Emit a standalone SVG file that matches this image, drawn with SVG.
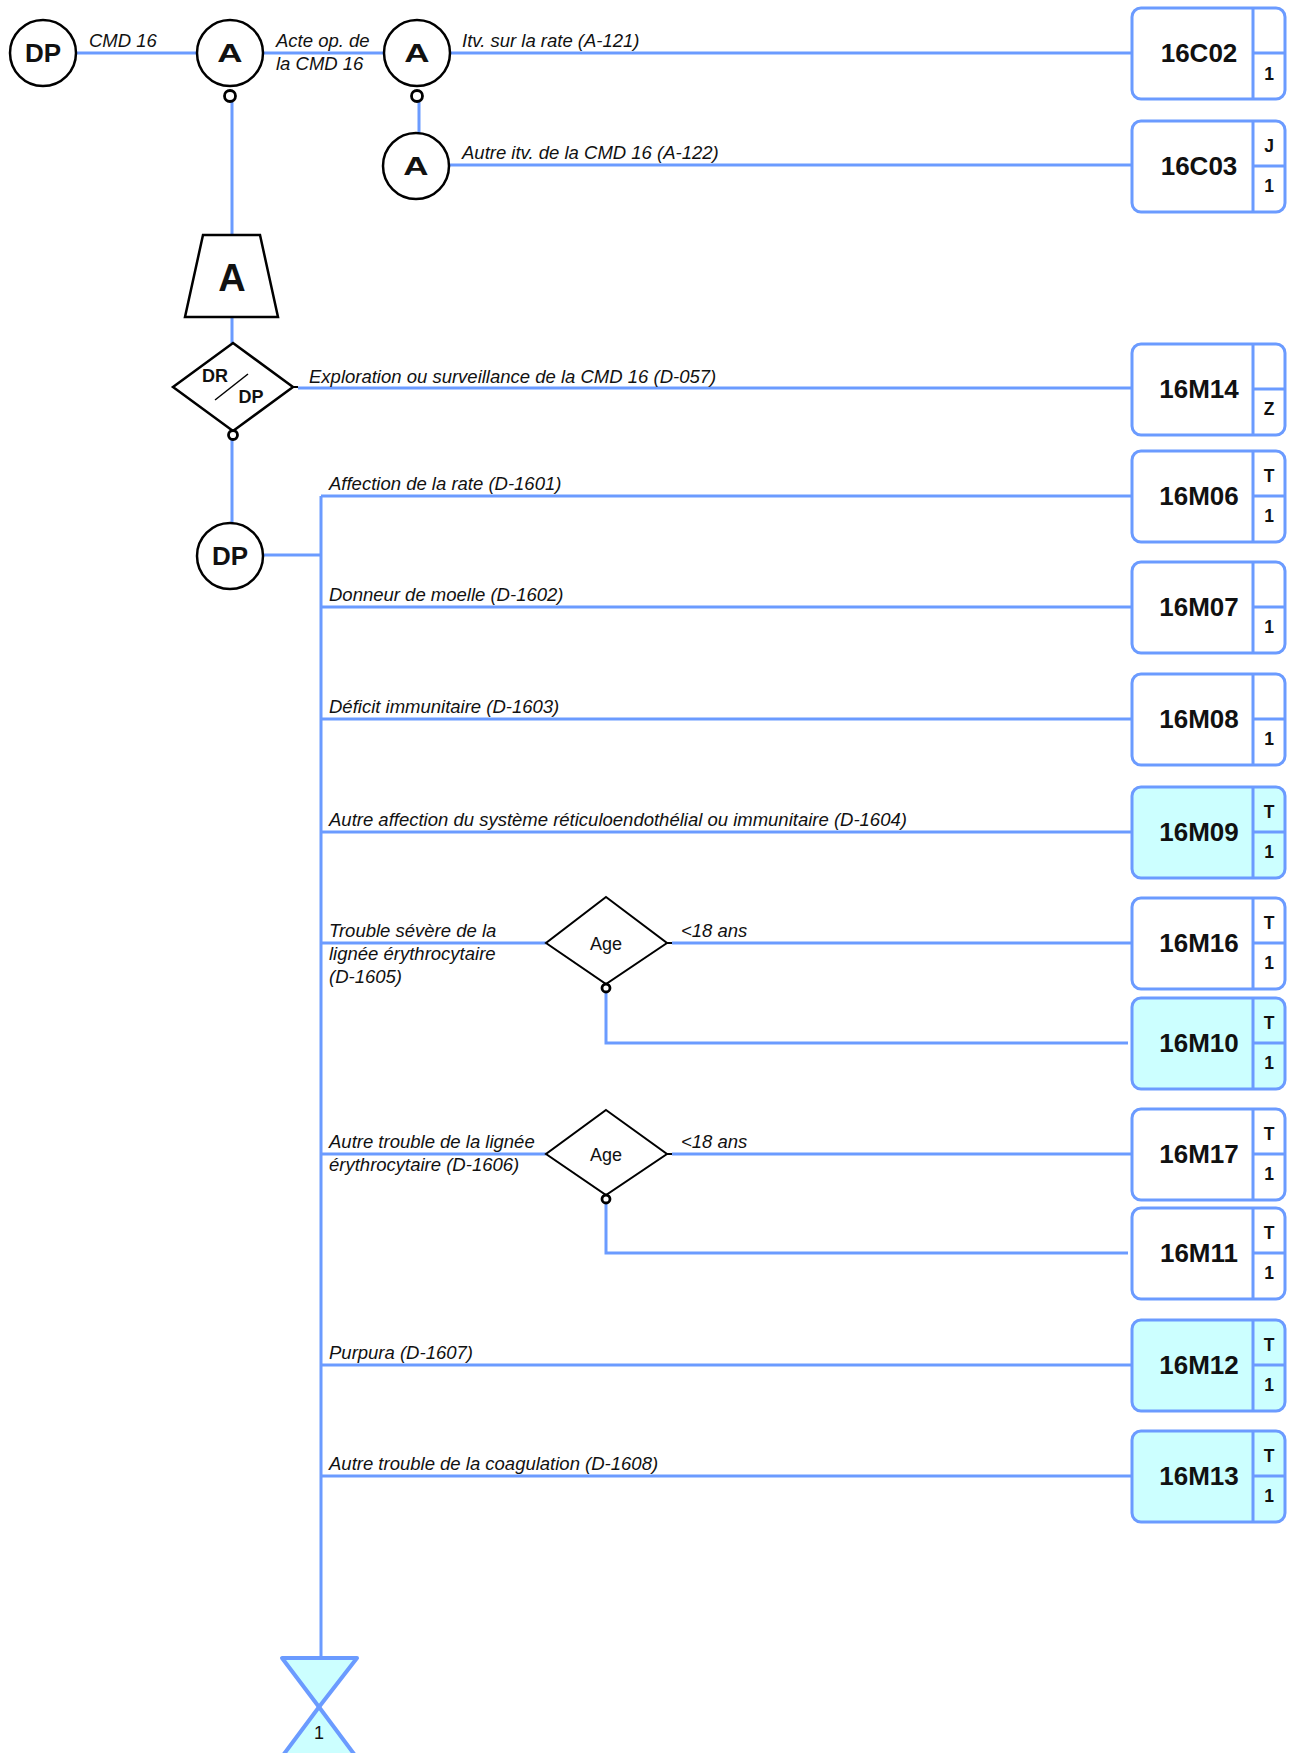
<svg xmlns="http://www.w3.org/2000/svg" width="1294" height="1753" viewBox="0 0 1294 1753">
<style>
.c{stroke:#6b9bff;stroke-width:3;fill:none}
.n{fill:#fff;stroke:#000;stroke-width:2.5}
.s{fill:#fff;stroke:#000;stroke-width:2.8}
.lbl{font-family:"Liberation Sans",Arial,sans-serif;font-style:italic;font-size:18.5px;fill:#111}
.b{font-family:"Liberation Sans",Arial,sans-serif;font-weight:bold;fill:#111;text-anchor:middle}
.r{font-family:"Liberation Sans",Arial,sans-serif;font-size:18px;fill:#111;text-anchor:middle}
.box{fill:#fff;stroke:#6b9bff;stroke-width:3}
.cy{fill:#ccffff}
.div{stroke:#6b9bff;stroke-width:3;fill:none}
.code{font-size:26px}
.sm{font-size:17.5px}
</style>
<defs>
<g id="bx">
<rect x="0" y="-45" width="153" height="91" rx="9" class="box"/>
<path d="M121,-45V46M121,0H153" class="div"/>
</g>
<g id="bxc">
<rect x="0" y="-45" width="153" height="91" rx="9" class="box cy"/>
<path d="M121,-45V46M121,0H153" class="div"/>
</g>
</defs>

<g id="connectors">
<path class="c" d="M77,53H197M263,53H384M450,53H1132M419,102V133M449,165H1132"/>
<path class="c" d="M232,102V235M232,317V343M232,439V523"/>
<path class="c" d="M298,388H1132"/>
<path class="c" d="M264,555H321M321,496V1658"/>
<path class="c" d="M321,496H1132M321,607H1132M321,719H1132M321,832H1132M321,943H546M321,1154H546M321,1365H1132M321,1476H1132"/>
<path class="c" d="M672,943H1132M606,992V1043H1128M672,1154H1132M606,1204V1253H1128"/>
<path d="M293,387H298M667,943H672M667,1154H672" stroke="#000" stroke-width="2"/>
</g>

<g id="labels">
<text class="lbl" x="89" y="47">CMD 16</text>
<text class="lbl" x="276" y="47">Acte op. de</text>
<text class="lbl" x="276" y="70">la CMD 16</text>
<text class="lbl" x="462" y="47">Itv. sur la rate (A-121)</text>
<text class="lbl" x="462" y="159">Autre itv. de la CMD 16 (A-122)</text>
<text class="lbl" x="309" y="383">Exploration ou surveillance de la CMD 16 (D-057)</text>
<text class="lbl" x="329" y="490">Affection de la rate (D-1601)</text>
<text class="lbl" x="329" y="601">Donneur de moelle (D-1602)</text>
<text class="lbl" x="329" y="713">Déficit immunitaire (D-1603)</text>
<text class="lbl" x="329" y="826">Autre affection du système réticuloendothélial ou immunitaire (D-1604)</text>
<text class="lbl" x="329" y="937">Trouble sévère de la</text>
<text class="lbl" x="329" y="960">lignée érythrocytaire</text>
<text class="lbl" x="329" y="983">(D-1605)</text>
<text class="lbl" x="681" y="937">&lt;18 ans</text>
<text class="lbl" x="329" y="1148">Autre trouble de la lignée</text>
<text class="lbl" x="329" y="1171">érythrocytaire (D-1606)</text>
<text class="lbl" x="681" y="1148">&lt;18 ans</text>
<text class="lbl" x="329" y="1359">Purpura (D-1607)</text>
<text class="lbl" x="329" y="1470">Autre trouble de la coagulation (D-1608)</text>
</g>

<g id="dp1"><circle cx="43" cy="53" r="33" class="n"/><text class="b" x="43" y="62" font-size="26">DP</text></g>
<g id="a1"><circle cx="230" cy="53" r="33" class="n"/><text class="b" transform="translate(230,62) scale(1.4,1)" font-size="25">A</text><circle cx="230" cy="96" r="5.5" class="s"/></g>
<g id="a2"><circle cx="417" cy="53" r="33" class="n"/><text class="b" transform="translate(417,62) scale(1.4,1)" font-size="25">A</text><circle cx="417" cy="96" r="5.5" class="s"/></g>
<g id="a3"><circle cx="416" cy="166" r="33" class="n"/><text class="b" transform="translate(416,175) scale(1.4,1)" font-size="25">A</text></g>
<g id="trap"><polygon points="203,235 260,235 278,317 185,317" class="n"/><text class="b" x="232" y="291" font-size="38">A</text></g>
<g id="drdp">
<polygon points="233,343 293,387 233,431 173,387" class="n"/>
<text class="b" x="215" y="382" font-size="18">DR</text>
<text class="b" x="251" y="403" font-size="18">DP</text>
<line x1="248" y1="374" x2="215" y2="400" stroke="#000" stroke-width="1.5"/>
<circle cx="233" cy="435" r="4.5" class="s"/>
</g>
<g id="dp2"><circle cx="230" cy="556" r="33" class="n"/><text class="b" x="230" y="565" font-size="26">DP</text></g>
<g id="age1">
<polygon points="606,897 667,943 606,984 546,943" fill="#fff" stroke="#000" stroke-width="2"/>
<text class="r" x="606" y="950">Age</text>
<circle cx="606" cy="988" r="4" class="s"/>
</g>
<g id="age2">
<polygon points="606,1110 667,1154 606,1195 546,1154" fill="#fff" stroke="#000" stroke-width="2"/>
<text class="r" x="606" y="1161">Age</text>
<circle cx="606" cy="1199" r="4" class="s"/>
</g>

<g id="b16C02" transform="translate(1132,53)"><use href="#bx"/><text class="b code" x="67" y="9">16C02</text><text class="b sm" x="137" y="27">1</text></g>
<g id="b16C03" transform="translate(1132,166)"><use href="#bx"/><text class="b code" x="67" y="9">16C03</text><text class="b sm" x="137" y="-14">J</text><text class="b sm" x="137" y="26">1</text></g>
<g id="b16M14" transform="translate(1132,389)"><use href="#bx"/><text class="b code" x="67" y="9">16M14</text><text class="b sm" x="137" y="26">Z</text></g>
<g id="b16M06" transform="translate(1132,496)"><use href="#bx"/><text class="b code" x="67" y="9">16M06</text><text class="b sm" x="137" y="-14">T</text><text class="b sm" x="137" y="26">1</text></g>
<g id="b16M07" transform="translate(1132,607)"><use href="#bx"/><text class="b code" x="67" y="9">16M07</text><text class="b sm" x="137" y="26">1</text></g>
<g id="b16M08" transform="translate(1132,719)"><use href="#bx"/><text class="b code" x="67" y="9">16M08</text><text class="b sm" x="137" y="26">1</text></g>
<g id="b16M09" transform="translate(1132,832)"><use href="#bxc"/><text class="b code" x="67" y="9">16M09</text><text class="b sm" x="137" y="-14">T</text><text class="b sm" x="137" y="26">1</text></g>
<g id="b16M16" transform="translate(1132,943)"><use href="#bx"/><text class="b code" x="67" y="9">16M16</text><text class="b sm" x="137" y="-14">T</text><text class="b sm" x="137" y="26">1</text></g>
<g id="b16M10" transform="translate(1132,1043)"><use href="#bxc"/><text class="b code" x="67" y="9">16M10</text><text class="b sm" x="137" y="-14">T</text><text class="b sm" x="137" y="26">1</text></g>
<g id="b16M17" transform="translate(1132,1154)"><use href="#bx"/><text class="b code" x="67" y="9">16M17</text><text class="b sm" x="137" y="-14">T</text><text class="b sm" x="137" y="26">1</text></g>
<g id="b16M11" transform="translate(1132,1253)"><use href="#bx"/><text class="b code" x="67" y="9">16M11</text><text class="b sm" x="137" y="-14">T</text><text class="b sm" x="137" y="26">1</text></g>
<g id="b16M12" transform="translate(1132,1365)"><use href="#bxc"/><text class="b code" x="67" y="9">16M12</text><text class="b sm" x="137" y="-14">T</text><text class="b sm" x="137" y="26">1</text></g>
<g id="b16M13" transform="translate(1132,1476)"><use href="#bxc"/><text class="b code" x="67" y="9">16M13</text><text class="b sm" x="137" y="-14">T</text><text class="b sm" x="137" y="26">1</text></g>

<g id="end">
<polygon points="282,1658 357,1658 319,1707" fill="#ccffff" stroke="#6b9bff" stroke-width="4" stroke-linejoin="round"/>
<polygon points="319,1707 281,1758 357,1758" fill="#ccffff" stroke="#6b9bff" stroke-width="4" stroke-linejoin="round"/>
<text class="r" x="319" y="1739">1</text>
</g>
</svg>
